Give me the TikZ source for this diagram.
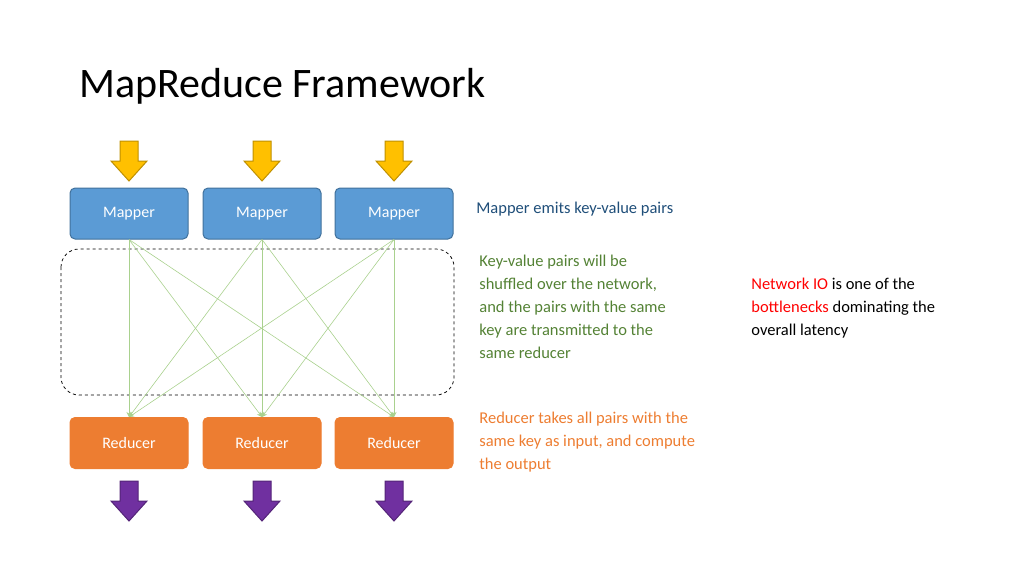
\documentclass[tikz,border=0pt]{standalone}
\usepackage{fontspec}
\setmainfont{Carlito}
\usetikzlibrary{arrows.meta}
\definecolor{mapblue}{HTML}{5B9BD5}
\definecolor{mapedge}{HTML}{41719C}
\definecolor{redorange}{HTML}{ED7D31}
\definecolor{rededge}{HTML}{AE5A21}
\definecolor{inyellow}{HTML}{FFC000}
\definecolor{inedge}{HTML}{BC8C00}
\definecolor{outpurple}{HTML}{7030A0}
\definecolor{outedge}{HTML}{4F2270}
\definecolor{shuffle}{HTML}{A9D18E}
\definecolor{shuffletext}{HTML}{548235}
\definecolor{emittext}{HTML}{1F4E79}
\tikzset{every picture/.style={line width=0.75pt}}
\tikzset{
  worker/.style={rounded corners=5pt, minimum width=118pt, minimum height=51pt, text=white, font=\fontsize{16}{19}\selectfont, line width=1pt},
  mapper/.style={worker, fill=mapblue, draw=mapedge},
  reducer/.style={worker, fill=redorange, draw=redorange},
  note/.style={anchor=north west, align=left, font=\fontsize{16.5}{23}\selectfont, inner sep=0pt}
}
\newcommand{\blockarrow}[3]{%
  \draw[fill=#3, draw=#3!75!black, line width=1pt] (#1-9,#2) -- (#1+9,#2) -- (#1+9,#2+20) -- (#1+18,#2+20) -- (#1,#2+40) -- (#1-18,#2+20) -- (#1-9,#2+20) -- cycle;}

\begin{document}
\begin{tikzpicture}[x=1pt,y=1pt,yscale=-1,xscale=1]
	\useasboundingbox (0,0) rectangle (1024,576);

	% Title
	\node[anchor=west, inner sep=0pt, font=\fontsize{42}{48}\selectfont] (title) at (79,86) {MapReduce Framework};

	% Shuffle region
	\draw[dashed, rounded corners=18pt] (61,249) rectangle (454,395);

	% Mappers and reducers
	\foreach \i/\x in {1/129,2/262,3/394} {
		\blockarrow{\x}{141}{inyellow}
		\node[mapper] (m\i) at (\x,213.5) {Mapper};
		\node[reducer] (r\i) at (\x,443) {Reducer};
		\blockarrow{\x}{481}{outpurple}
	}

	% Shuffle connectors
	\foreach \i in {1,2,3} {
		\foreach \j in {1,2,3} {
			\draw[shuffle, line width=0.6pt, -{Stealth[length=5pt,width=5pt]}] (m\i.south) -- (r\j.north);
		}
	}

	% Text Node
	\node[note, text=emittext] (emit) at (476,202) {Mapper emits key-value pairs};
	% Text Node
	\node[note, text=shuffletext] (shuf) at (479,255) {Key-value pairs will be\\shuffled over the network,\\and the pairs with the same\\key are transmitted to the\\same reducer};
	% Text Node
	\node[note, text=redorange] (red) at (479,412) {Reducer takes all pairs with the\\same key as input, and compute\\the output};
	% Text Node
	\node[note] (netio) at (751,278) {\textcolor{red}{Network IO} is one of the\\\textcolor{red}{bottlenecks} dominating the\\overall latency};

\end{tikzpicture}
\end{document}
